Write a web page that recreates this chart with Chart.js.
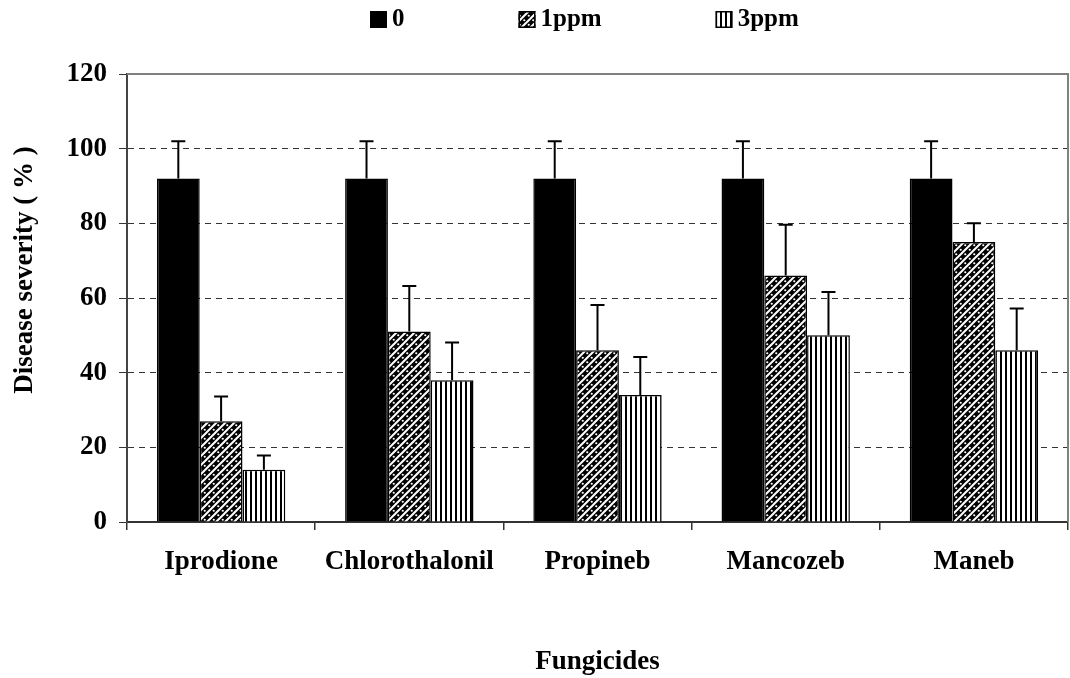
<!DOCTYPE html>
<html>
<head>
<meta charset="utf-8">
<script src="https://cdn.jsdelivr.net/npm/chart.js@4/dist/chart.umd.min.js"></script>
<style>
    html, body { margin: 0; padding: 0; background: #fff; }
    #wrap { width: 1070px; height: 678px; }
</style>
</head>
<body>
<div id="wrap"><canvas id="chart" width="1070" height="678"></canvas></div>
<script>
    const fungicides = ["Iprodione", "Chlorothalonil", "Propineb", "Mancozeb", "Maneb"];
    const seriesNames = ["0", "1ppm", "3ppm"];

    const severity0 = [92, 92, 92, 92, 92];
    const severity1ppm = [27, 51, 46, 66, 75];
    const severity3ppm = [14, 38, 34, 50, 46];

    const error0 = [10, 10, 10, 10, 10];
    const error1ppm = [6.6, 12.2, 12.1, 13.6, 5];
    const error3ppm = [3.8, 10.1, 10.2, 11.6, 11.2];

    const yTicks = [0, 20, 40, 60, 80, 100, 120];
    const yTitle = "Disease severity ( % )";

    const font = "'Liberation Serif', 'Times New Roman', serif";

    function makePattern(w, h, draw) {
        const c = document.createElement("canvas");
        c.width = w;
        c.height = h;
        draw(c.getContext("2d"));
        return c.getContext("2d").createPattern(c, "repeat");
    }

    // white diagonal stripes with a dotted row between them, on black
    const diagDots = makePattern(9, 9, g => {
        g.fillStyle = "#000";
        g.fillRect(0, 0, 9, 9);
        g.strokeStyle = "#fff";
        g.lineWidth = 2;
        [[-1, 10, 10, -1], [-1, 1, 1, -1], [8, 10, 10, 8]].forEach(([a, b, c, d]) => {
            g.beginPath();
            g.moveTo(a, b);
            g.lineTo(c, d);
            g.stroke();
        });
        g.fillStyle = "#fff";
        [[2.25, 2.25], [6.75, 6.75]].forEach(([x, y]) => {
            g.beginPath();
            g.arc(x, y, 1.1, 0, Math.PI * 2);
            g.fill();
        });
    });

    // vertical black stripes on white
    const vertStripes = makePattern(5, 4, g => {
        g.fillStyle = "#fff";
        g.fillRect(0, 0, 5, 4);
        g.fillStyle = "#000";
        g.fillRect(0, 0, 2, 4);
    });

    const fills = ["#000", diagDots, vertStripes];
    const errors = [error0, error1ppm, error3ppm];

    const errorBars = {
        id: "errorBars",
        afterDatasetsDraw(chart) {
            const { ctx, scales: { y } } = chart;
            ctx.save();
            ctx.strokeStyle = "#000";
            ctx.lineWidth = 2;
            chart.data.datasets.forEach((ds, i) => {
                chart.getDatasetMeta(i).data.forEach((bar, j) => {
                    const top = y.getPixelForValue(ds.data[j] + errors[i][j]);
                    ctx.beginPath();
                    ctx.moveTo(bar.x, bar.y);
                    ctx.lineTo(bar.x, top);
                    ctx.moveTo(bar.x - 7, top);
                    ctx.lineTo(bar.x + 7, top);
                    ctx.stroke();
                });
            });
            ctx.restore();
        }
    };

    const frame = {
        id: "frame",
        beforeDatasetsDraw(chart) {
            const { ctx, chartArea: a } = chart;
            ctx.save();
            ctx.strokeStyle = "#808080";
            ctx.lineWidth = 2;
            ctx.beginPath();
            ctx.moveTo(a.left, a.top);
            ctx.lineTo(a.right, a.top);
            ctx.lineTo(a.right, a.bottom);
            ctx.stroke();
            ctx.restore();
        }
    };

    // y title sits a bit above the middle of the plot in the original
    const sideTitle = {
        id: "sideTitle",
        afterDraw(chart) {
            const { ctx } = chart;
            ctx.save();
            ctx.translate(25, 270);
            ctx.rotate(-Math.PI / 2);
            ctx.font = "bold 27px " + font;
            ctx.textAlign = "center";
            ctx.textBaseline = "middle";
            ctx.fillStyle = "#000";
            ctx.fillText(yTitle, 0, 0);
            ctx.restore();
        }
    };

    const topLegend = {
        id: "topLegend",
        afterDraw(chart) {
            const { ctx } = chart;
            ctx.save();
            ctx.font = "bold 25px " + font;
            ctx.textBaseline = "middle";
            let x = 370;
            const cy = 19;
            chart.data.datasets.forEach(ds => {
                ctx.fillStyle = ds.backgroundColor;
                ctx.fillRect(x, cy - 8, 17, 17);
                ctx.strokeStyle = "#000";
                ctx.lineWidth = 1.5;
                ctx.strokeRect(x + 0.75, cy - 7.25, 15.5, 15.5);
                ctx.fillStyle = "#000";
                ctx.fillText(ds.label, x + 22, cy + 1);
                x += 22 + ctx.measureText(ds.label).width + 114;
            });
            ctx.restore();
        }
    };

    new Chart(document.getElementById("chart"), {
        type: "bar",
        data: {
            labels: fungicides,
            datasets: [severity0, severity1ppm, severity3ppm].map((values, i) => ({
                label: seriesNames[i],
                data: values,
                backgroundColor: fills[i],
                borderColor: "#000",
                borderWidth: 1.5,
                categoryPercentage: 0.682,
                barPercentage: 1
            }))
        },
        options: {
            responsive: false,
            animation: false,
            layout: { padding: { top: 74, right: 2, left: 0, bottom: 0 } },
            plugins: {
                legend: { display: false },
                tooltip: { enabled: false }
            },
            scales: {
                x: {
                    afterFit: scale => { scale.height = 156; },
                    grid: {
                        drawOnChartArea: false,
                        offset: true,
                        tickLength: 8,
                        color: "#333",
                        lineWidth: 1.5
                    },
                    border: { color: "#333", width: 2 },
                    ticks: {
                        color: "#000",
                        padding: 16,
                        font: { family: font, size: 27, weight: "bold" }
                    },
                    title: {
                        display: true,
                        text: "Fungicides",
                        color: "#000",
                        padding: { top: 0, bottom: 0 },
                        font: { family: font, size: 27, weight: "bold" }
                    }
                },
                y: {
                    min: 0,
                    max: 120,
                    afterFit: scale => { scale.width = 127; },
                    afterBuildTicks: scale => { scale.ticks = yTicks.map(v => ({ value: v })); },
                    grid: {
                        color: c => (c.tick && (c.tick.value === 0 || c.tick.value === 120)) ? "rgba(0,0,0,0)" : "#333",
                        tickColor: "#333",
                        tickLength: 8,
                        lineWidth: 1
                    },
                    border: { color: "#444", width: 2, dash: [6, 5] },
                    ticks: {
                        color: "#000",
                        padding: 12,
                        font: { family: font, size: 27, weight: "bold" }
                    }
                }
            }
        },
        plugins: [frame, errorBars, sideTitle, topLegend]
    });
</script>
</body>
</html>
